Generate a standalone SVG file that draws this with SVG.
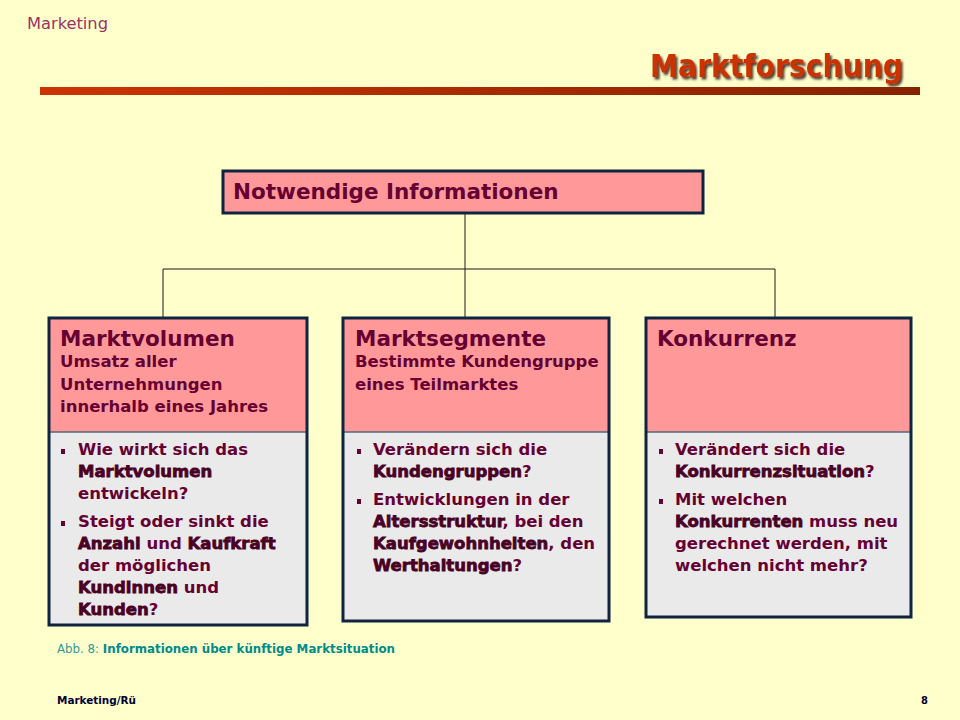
<svg xmlns="http://www.w3.org/2000/svg" width="960" height="720" viewBox="0 0 960 720">
<defs>
<linearGradient id="bar" x1="0" y1="0" x2="1" y2="0">
<stop offset="0" stop-color="#CC3300"/>
<stop offset="1" stop-color="#862200"/>
</linearGradient>
<filter id="shadow" x="-10%" y="-20%" width="130%" height="150%">
<feDropShadow dx="2" dy="2.5" stdDeviation="0.8" flood-color="#3a2a1a" flood-opacity="0.9"/>
</filter>
</defs>
<style>
.t{font-family:"DejaVu Sans","Liberation Sans",sans-serif;font-weight:bold;fill:#660033}
.h{font-size:21.5px}
.s{font-size:16.5px}
.b{font-size:16.5px}
.k{fill:#4a0025;stroke:#4a0025;stroke-width:0.8}
.box{stroke:#0F2440;stroke-width:3}
.pink{fill:#FF9999}
.grey{fill:#EAEAEA}
.div{stroke:#55667a;stroke-width:1.5}
.bul{fill:#660033}
.con{stroke:#1a1a1a;stroke-width:1;fill:none}
.cond{font-family:"DejaVu Sans Condensed","DejaVu Sans","Liberation Sans",sans-serif}
</style>
<rect x="0" y="0" width="960" height="720" fill="#FFFFCC"/>
<text class="cond" x="27" y="29" font-size="16" fill="#993366" textLength="81" lengthAdjust="spacingAndGlyphs">Marketing</text>
<text class="cond" x="903" y="77" font-size="32" font-weight="bold" fill="#CC3300" text-anchor="end" filter="url(#shadow)" textLength="253" lengthAdjust="spacingAndGlyphs">Marktforschung</text>
<rect x="40" y="87" width="880" height="8" fill="url(#bar)"/>

<g id="connectors">
<line class="con" x1="465" y1="213" x2="465" y2="317"/>
<line class="con" x1="163" y1="269" x2="775" y2="269"/>
<line class="con" x1="163" y1="269" x2="163" y2="317"/>
<line class="con" x1="775" y1="269" x2="775" y2="317"/>
</g>

<g id="node-root">
<rect class="box pink" x="223" y="171" width="480" height="42"/>
<text class="t h" x="233" y="199">Notwendige Informationen</text>
</g>

<g id="node-marktvolumen">
<rect class="pink" x="49" y="318" width="258" height="114"/>
<rect class="grey" x="49" y="432" width="258" height="193"/>
<line class="div" x1="49" y1="432" x2="307" y2="432"/>
<rect class="box" x="49" y="318" width="258" height="307" fill="none"/>
<text class="t h" x="60" y="346">Marktvolumen</text>
<text class="t s" x="60" y="367">Umsatz aller</text>
<text class="t s" x="60" y="390">Unternehmungen</text>
<text class="t s" x="60" y="412">innerhalb eines Jahres</text>
<rect class="bul" x="61" y="449" width="4" height="5"/>
<text class="t b" x="78" y="455">Wie wirkt sich das</text>
<text class="t b" x="78" y="477"><tspan class="k">Marktvolumen</tspan></text>
<text class="t b" x="78" y="499">entwickeln?</text>
<rect class="bul" x="61" y="521" width="4" height="5"/>
<text class="t b" x="78" y="527">Steigt oder sinkt die</text>
<text class="t b" x="78" y="549"><tspan class="k">Anzahl</tspan> und <tspan class="k">Kaufkraft</tspan></text>
<text class="t b" x="78" y="571">der möglichen</text>
<text class="t b" x="78" y="593"><tspan class="k">Kundinnen</tspan> und</text>
<text class="t b" x="78" y="615"><tspan class="k">Kunden</tspan>?</text>
</g>

<g id="node-marktsegmente">
<rect class="pink" x="343" y="318" width="266" height="114"/>
<rect class="grey" x="343" y="432" width="266" height="189"/>
<line class="div" x1="343" y1="432" x2="609" y2="432"/>
<rect class="box" x="343" y="318" width="266" height="303" fill="none"/>
<text class="t h" x="355" y="346">Marktsegmente</text>
<text class="t s" x="355" y="367">Bestimmte Kundengruppe</text>
<text class="t s" x="355" y="390">eines Teilmarktes</text>
<rect class="bul" x="357" y="449" width="4" height="5"/>
<text class="t b" x="373" y="455">Verändern sich die</text>
<text class="t b" x="373" y="477"><tspan class="k">Kundengruppen</tspan>?</text>
<rect class="bul" x="357" y="499" width="4" height="5"/>
<text class="t b" x="373" y="505">Entwicklungen in der</text>
<text class="t b" x="373" y="527"><tspan class="k">Altersstruktur</tspan>, bei den</text>
<text class="t b" x="373" y="549"><tspan class="k">Kaufgewohnheiten</tspan>, den</text>
<text class="t b" x="373" y="571"><tspan class="k">Werthaltungen</tspan>?</text>
</g>

<g id="node-konkurrenz">
<rect class="pink" x="646" y="318" width="265" height="114"/>
<rect class="grey" x="646" y="432" width="265" height="185"/>
<line class="div" x1="646" y1="432" x2="911" y2="432"/>
<rect class="box" x="646" y="318" width="265" height="299" fill="none"/>
<text class="t h" x="657" y="346">Konkurrenz</text>
<rect class="bul" x="659" y="449" width="4" height="5"/>
<text class="t b" x="675" y="455">Verändert sich die</text>
<text class="t b" x="675" y="477"><tspan class="k">Konkurrenzsituation</tspan>?</text>
<rect class="bul" x="659" y="499" width="4" height="5"/>
<text class="t b" x="675" y="505">Mit welchen</text>
<text class="t b" x="675" y="527"><tspan class="k">Konkurrenten</tspan> muss neu</text>
<text class="t b" x="675" y="549">gerechnet werden, mit</text>
<text class="t b" x="675" y="571">welchen nicht mehr?</text>
</g>

<text class="cond" x="57" y="653" font-size="12" fill="#339999" textLength="338" lengthAdjust="spacingAndGlyphs">Abb. 8: <tspan font-weight="bold" fill="#008B8B">Informationen über künftige Marktsituation</tspan></text>
<text class="cond" x="57" y="704" font-size="11" font-weight="bold" fill="#000033" textLength="79" lengthAdjust="spacingAndGlyphs">Marketing/Rü</text>
<text class="cond" x="928" y="704" font-size="11" font-weight="bold" fill="#000033" text-anchor="end">8</text>
</svg>
